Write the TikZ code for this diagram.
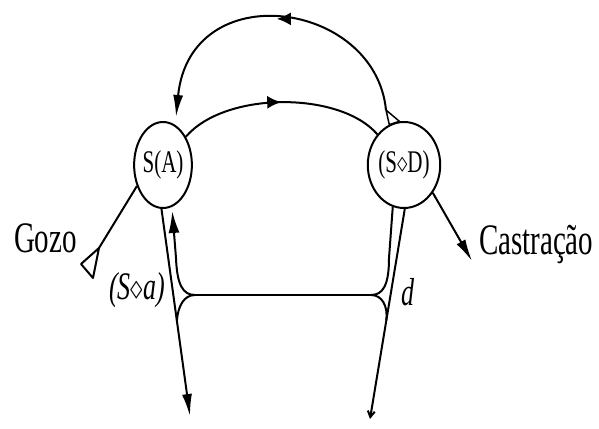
\documentclass[tikz,border=0pt]{standalone}
\usepackage{fontspec}
\setmainfont{Liberation Serif}
\usepackage{graphicx}
\usetikzlibrary{shapes.geometric,arrows.meta,decorations.markings,calc}
\newcommand{\vs}[1]{\scalebox{1}[1.5]{#1}}
\begin{document}
\begin{tikzpicture}[x=1pt,y=-1pt,
  every path/.style={line width=2pt},
  circ/.style={ellipse, draw, line width=2pt, minimum width=57pt, minimum height=86pt, inner sep=0pt, font=\fontsize{21}{22}\selectfont},
  big/.style={font=\fontsize{29}{30}\selectfont, inner sep=0pt},
  mid/.style={font=\fontsize{26}{28}\selectfont\itshape, inner sep=0pt},
  midarrow/.style={decoration={markings, mark=at position 0.5 with {\arrow{Latex[length=14pt,width=13pt]}}}, postaction={decorate}},
  bigtip/.style={-{Latex[length=22pt,width=10pt]}}
]
\useasboundingbox (0,0) rectangle (599,428);

\node[circ] (L) at (163,165) {\vs{S(A)}};
\node[circ] (R) at (404,165) {\vs{(S$\diamond$D)}};

% inner arc
\draw[midarrow] (L.51) .. controls (225,91) and (340,91) .. (R.131);

% outer arc
\coordinate (oa) at (386,110);
\coordinate (tipL) at (176,117);
\draw[fill=white, line width=1.5pt] (oa) -- (R.110) -- (R.96) -- cycle;
\draw[midarrow, bigtip] (oa) .. controls (375,0) and (190,-25) .. (tipL);

% Gozo
\coordinate (gz) at (99,248);
\draw (L.219) -- (gz);
\draw[fill=white, line join=round] (gz) -- (81,264) -- (93,278) -- cycle;
\node[big, anchor=base west] (gozo) at (13,252) {\vs{Gozo}};

% Castracao
\coordinate (ct) at (472,261);
\draw[-{Latex[length=22pt,width=10pt]}] (R.316) -- (ct);
\node[big, anchor=base west] (cast) at (478,254) {\vs{Castração}};

% lower structure
\coordinate (bl) at (190,416);
\coordinate (br) at (370,419);
\coordinate (jl) at (195,295);
\coordinate (jr) at (371,295);
\coordinate (ml) at ($(L.268)!0.54!(bl)$);
\coordinate (mr) at ($(R.271)!0.53!(br)$);

\draw[bigtip] (L.268) -- (bl);
\draw[-{Straight Barb[length=6pt,width=7pt]}] (R.271) -- (br);

\draw[-{Latex[length=22pt,width=11pt]}, shorten >=4pt] (jl) .. controls (183,295) and (177,285) .. (176,258) -- (L.282);
\draw (jr) .. controls (383,295) and (389,285) .. (389,258) -- (R.255);

\draw (jl) -- (jr);
\draw (jl) .. controls (184,295) and (178,306) .. (ml);
\draw (jr) .. controls (382,295) and (388,306) .. (mr);

\node[mid, anchor=base] (sa) at (137,299) {\vs{(S$\diamond$a)}};
\node[mid, anchor=base] (dd) at (408,305) {\vs{d}};
\end{tikzpicture}
\end{document}
